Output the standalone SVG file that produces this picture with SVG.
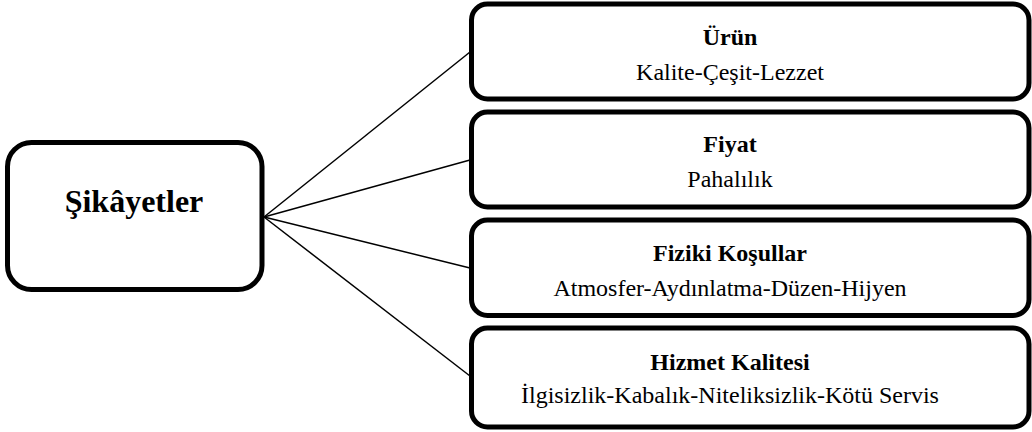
<svg xmlns="http://www.w3.org/2000/svg" width="1032" height="432" viewBox="0 0 1032 432">
<style>
.box{fill:#fff;stroke:#000;stroke-width:5}
.t{font-family:"Liberation Serif","Times New Roman",serif;fill:#000;text-anchor:middle}
.b{font-weight:bold;font-size:24px}
.r{font-size:24px}
.conn line{stroke:#000;stroke-width:1.5}
</style>
<rect width="1032" height="432" fill="#fff"/>
<g id="connectors" class="conn">
<line x1="264" y1="217" x2="470" y2="52"/>
<line x1="264" y1="217" x2="470" y2="160"/>
<line x1="264" y1="217" x2="470" y2="268"/>
<line x1="264" y1="217" x2="470" y2="376"/>
</g>
<g id="sikayetler">
<rect class="box" x="7.5" y="142.5" width="254.5" height="147" rx="24"/>
<text class="t" x="134" y="212" font-size="32" font-weight="bold">Şikâyetler</text>
</g>
<g id="urun">
<rect class="box" x="471.5" y="4" width="557.5" height="95" rx="16"/>
<text class="t b" x="730" y="45">Ürün</text>
<text class="t r" x="730" y="80">Kalite-Çeşit-Lezzet</text>
</g>
<g id="fiyat">
<rect class="box" x="471.5" y="112" width="557.5" height="95" rx="16"/>
<text class="t b" x="730" y="152">Fiyat</text>
<text class="t r" x="730" y="187">Pahalılık</text>
</g>
<g id="fiziki">
<rect class="box" x="471.5" y="220" width="557.5" height="95.5" rx="16"/>
<text class="t b" x="730" y="261">Fiziki Koşullar</text>
<text class="t r" x="730" y="296">Atmosfer-Aydınlatma-Düzen-Hijyen</text>
</g>
<g id="hizmet">
<rect class="box" x="471.5" y="328" width="557.5" height="99" rx="16"/>
<text class="t b" x="730" y="370">Hizmet Kalitesi</text>
<text class="t r" x="730" y="403">İlgisizlik-Kabalık-Niteliksizlik-Kötü Servis</text>
</g>
</svg>
